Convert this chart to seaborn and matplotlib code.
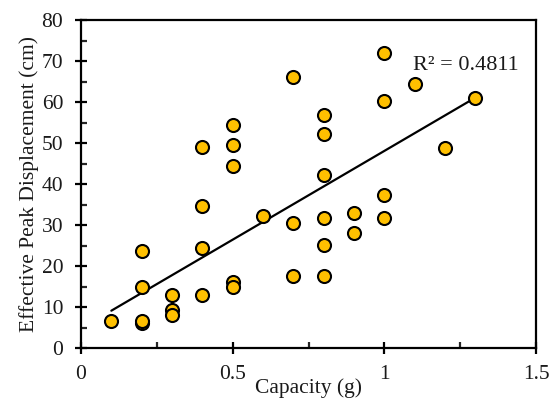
import numpy as np
import pandas as pd
import matplotlib
matplotlib.use("Agg")
import matplotlib.pyplot as plt
import seaborn as sns
from matplotlib.ticker import MultipleLocator

# Capacity (g) and effective peak displacement (cm) for each record
capacity = [0.1,
            0.2, 0.2, 0.2, 0.2,
            0.3, 0.3, 0.3,
            0.4, 0.4, 0.4, 0.4,
            0.5, 0.5, 0.5, 0.5, 0.5,
            0.6,
            0.7, 0.7, 0.7,
            0.8, 0.8, 0.8, 0.8, 0.8, 0.8,
            0.9, 0.9,
            1.0, 1.0, 1.0, 1.0,
            1.1, 1.2, 1.3]
displacement = [6.5,
                23.6, 14.9, 6.0, 6.5,
                12.9, 9.3, 8.0,
                49.0, 34.6, 24.5, 12.9,
                54.3, 49.6, 44.3, 16.1, 14.8,
                32.1,
                66.2, 30.5, 17.6,
                56.8, 52.1, 42.2, 31.7, 25.2, 17.6,
                33.0, 28.0,
                72.1, 60.3, 37.3, 31.7,
                64.3, 48.7, 61.1]

# Linear trendline end points and its coefficient of determination
trend_x = [0.1, 1.3]
trend_y = [9.1, 61.1]
r2_label = "R\u00b2 = 0.4811"

df = pd.DataFrame({"Capacity (g)": capacity,
                   "Effective Peak Displacement (cm)": displacement})
trend = pd.DataFrame({"x": trend_x, "y": trend_y})

sns.set_style("white")
plt.rcParams["font.family"] = ["Liberation Serif", "DejaVu Serif"]
text_color = "#1a1a1a"
fs = 15.5

fig = plt.figure(figsize=(5.51, 4.03), dpi=100)
ax = fig.add_axes([0.147, 0.1365, 0.826, 0.8135])

sns.lineplot(data=trend, x="x", y="y", color="black", linewidth=1.6, ax=ax)
sns.scatterplot(data=df, x="Capacity (g)", y="Effective Peak Displacement (cm)",
                s=88, color="#FFC000", edgecolor="black", linewidth=1.5,
                zorder=3, ax=ax)

ax.set_xlim(0, 1.5)
ax.set_ylim(0, 80)
ax.xaxis.set_major_locator(MultipleLocator(0.5))
ax.xaxis.set_minor_locator(MultipleLocator(0.25))
ax.yaxis.set_major_locator(MultipleLocator(10))
ax.yaxis.set_minor_locator(MultipleLocator(5))
ax.set_xticks([0, 0.5, 1, 1.5])
ax.set_xticklabels(["0", "0.5", "1", "1.5"])

for sp in ax.spines.values():
    sp.set_visible(True)
    sp.set_color("black")
    sp.set_linewidth(1.6)

ax.tick_params(which="major", direction="inout", length=8.5, width=1.6,
               labelsize=fs, labelcolor=text_color, color="black")
ax.tick_params(axis="y", which="major", pad=8.5)
ax.tick_params(axis="x", which="major", pad=8)
ax.tick_params(which="minor", direction="in", length=4.5, width=1.6)
ax.tick_params(axis="x", which="both", bottom=True)
ax.tick_params(axis="y", which="both", left=True)

ax.set_xlabel("Capacity (g)", fontsize=fs, color=text_color, labelpad=-4)
ax.set_ylabel("Effective Peak Displacement (cm)", fontsize=fs,
              color=text_color, labelpad=2)

ax.text(1.095, 69.0, r2_label, fontsize=fs + 0.5, va="center", ha="left",
        color=text_color)

fig.savefig("out.png", dpi=100)
